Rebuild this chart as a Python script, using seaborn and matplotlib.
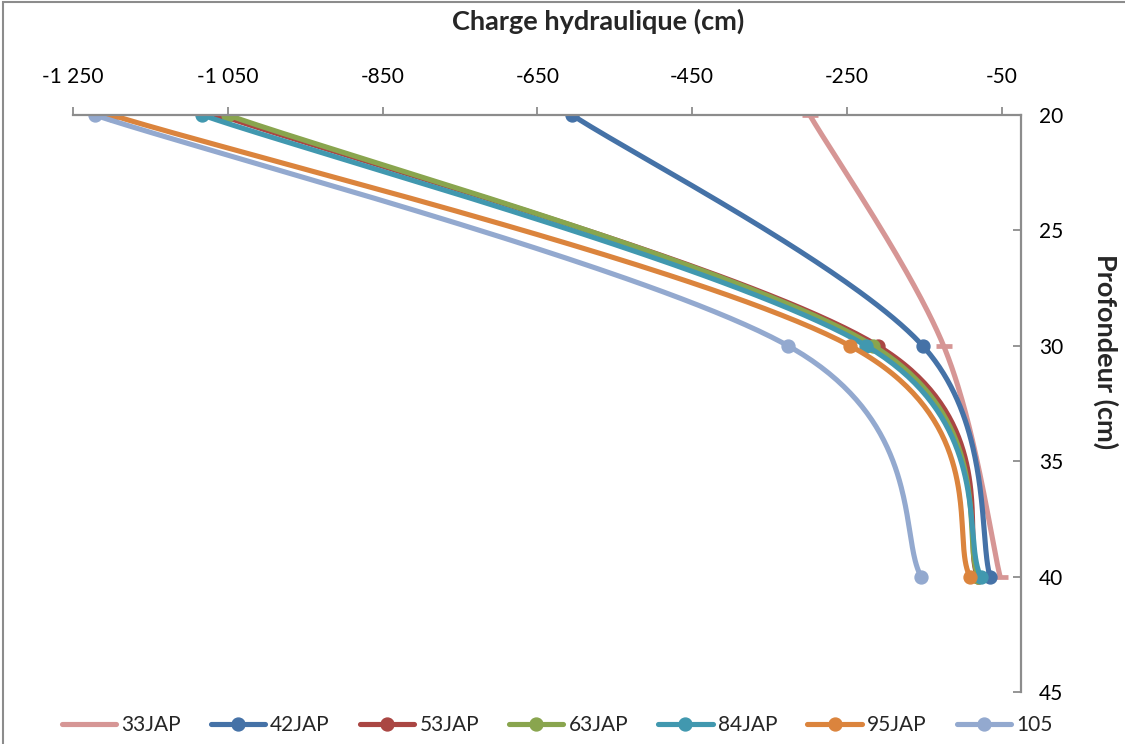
import numpy as np
import pandas as pd
import matplotlib
matplotlib.use("Agg")
import matplotlib.pyplot as plt
from matplotlib.lines import Line2D
from matplotlib.patches import Rectangle
import seaborn as sns

# Profiles: hydraulic head (cm) at three depths (cm)
depths = [20, 30, 40]
series_names = ["33JAP", "42JAP", "53JAP", "63JAP", "84JAP", "95JAP", "105"]
h_33jap = [-298, -125, -52]
h_42jap = [-605, -152, -65]
h_53jap = [-1060, -210, -81]
h_63jap = [-1050, -216, -80]
h_84jap = [-1083, -225, -77]
h_95jap = [-1200, -246, -91]
h_105 = [-1222, -326, -154]

x_ticks = [-1250, -1050, -850, -650, -450, -250, -50]
x_tick_labels = ["-1 250", "-1 050", "-850", "-650", "-450", "-250", "-50"]
y_ticks = [20, 25, 30, 35, 40, 45]

heads = [h_33jap, h_42jap, h_53jap, h_63jap, h_84jap, h_95jap, h_105]
colors = ["#D69695", "#4572A7", "#AA4643", "#89A54E", "#4198AF", "#DB843D", "#93A9CF"]
markers = ["_", "o", "o", "o", "o", "o", "o"]


def smooth_curve(xs, ys, n=80):
    """Piecewise cubic Bezier through the points (spreadsheet-style smoothed line)."""
    pts = np.column_stack([xs, ys]).astype(float)
    ext = np.vstack([pts[0], pts, pts[-1]])
    t = np.linspace(0, 1, n)[:, None]
    out = []
    for i in range(len(pts) - 1):
        p0, p3 = pts[i], pts[i + 1]
        c1 = p0 + (ext[i + 2] - ext[i]) / 6.0
        c2 = p3 - (ext[i + 3] - ext[i + 1]) / 6.0
        seg = ((1 - t) ** 3) * p0 + 3 * ((1 - t) ** 2) * t * c1 \
            + 3 * (1 - t) * t ** 2 * c2 + t ** 3 * p3
        out.append(seg if i == 0 else seg[1:])
    seg = np.vstack(out)
    return seg[:, 0], seg[:, 1]


sns.set_theme(style="white")
plt.rcParams["font.family"] = ["Lato", "DejaVu Sans"]

W, H = 1125, 744
fig = plt.figure(figsize=(W / 100, H / 100), dpi=100)
fig.patch.set_facecolor("white")

# Chart area border
fig.patches.append(Rectangle((3 / W, -0.05), 1.2, 1 - 2 / H + 0.05,
                             transform=fig.transFigure, fill=False,
                             edgecolor="#8C8C8C", linewidth=1.5, zorder=0))

ax = fig.add_axes([73 / W, 1 - 692 / H, (1021 - 73) / W, (692 - 115) / H])
ax.set_facecolor("white")

lw = 3.7
ms = 9.3
for name, h, col, mk in zip(series_names, heads, colors, markers):
    cx, cy = smooth_curve(h, depths)
    df = pd.DataFrame({"h": cx, "z": cy})
    sns.lineplot(data=df, x="h", y="z", sort=False, estimator=None, ax=ax,
                 color=col, linewidth=lw, solid_capstyle="round", legend=False)
    pts = pd.DataFrame({"h": h, "z": depths})
    if mk == "o":
        ax.plot(pts["h"], pts["z"], linestyle="none", marker="o", markersize=ms,
                color=col, markeredgecolor=col)
    else:
        ax.plot(pts["h"], pts["z"], linestyle="none", marker="_", markersize=11,
                markeredgewidth=3.4, color=col)

ax.set_xlim(-1250, -25)
ax.set_ylim(45, 20)
ax.xaxis.tick_top()
ax.yaxis.tick_right()
ax.set_xticks(x_ticks)
ax.set_xticklabels(x_tick_labels)
ax.set_yticks(y_ticks)
ax.set_xlabel("")
ax.set_ylabel("")

for side in ["left", "bottom"]:
    ax.spines[side].set_visible(False)
for side in ["top", "right"]:
    ax.spines[side].set_visible(True)
    ax.spines[side].set_color("#8C8C8C")
    ax.spines[side].set_linewidth(1.6)

ax.tick_params(axis="x", which="major", direction="out", length=5.5, width=1.3,
               color="#8C8C8C", pad=15, labelsize=15, labelcolor="black",
               top=True, bottom=False, labeltop=True, labelbottom=False)
ax.tick_params(axis="y", which="major", direction="in", length=6, width=1.3,
               color="#8C8C8C", pad=13, labelsize=15, labelcolor="black",
               right=True, left=False, labelright=True, labelleft=False)
ax.grid(False)

fig.text(598 / W, 1 - 21 / H, "Charge hydraulique (cm)", ha="center", va="center",
         fontsize=19.5, fontweight="bold")
fig.text(1106 / W, 1 - 352 / H, "Profondeur (cm)", ha="center", va="center",
         rotation=270, fontsize=19.5, fontweight="bold")

handles = []
for name, col, mk in zip(series_names, colors, markers):
    if mk == "o":
        handles.append(Line2D([0], [0], color=col, linewidth=lw, marker="o",
                              markersize=ms, label=name))
    else:
        handles.append(Line2D([0], [0], color=col, linewidth=lw, label=name))

fig.legend(handles=handles, loc="center", bbox_to_anchor=(557 / W, 1 - 725 / H),
           ncol=7, frameon=False, fontsize=15, handlelength=2.6,
           handletextpad=0.25, columnspacing=1.45, borderaxespad=0)

fig.savefig("out.png", dpi=100, facecolor="white")
